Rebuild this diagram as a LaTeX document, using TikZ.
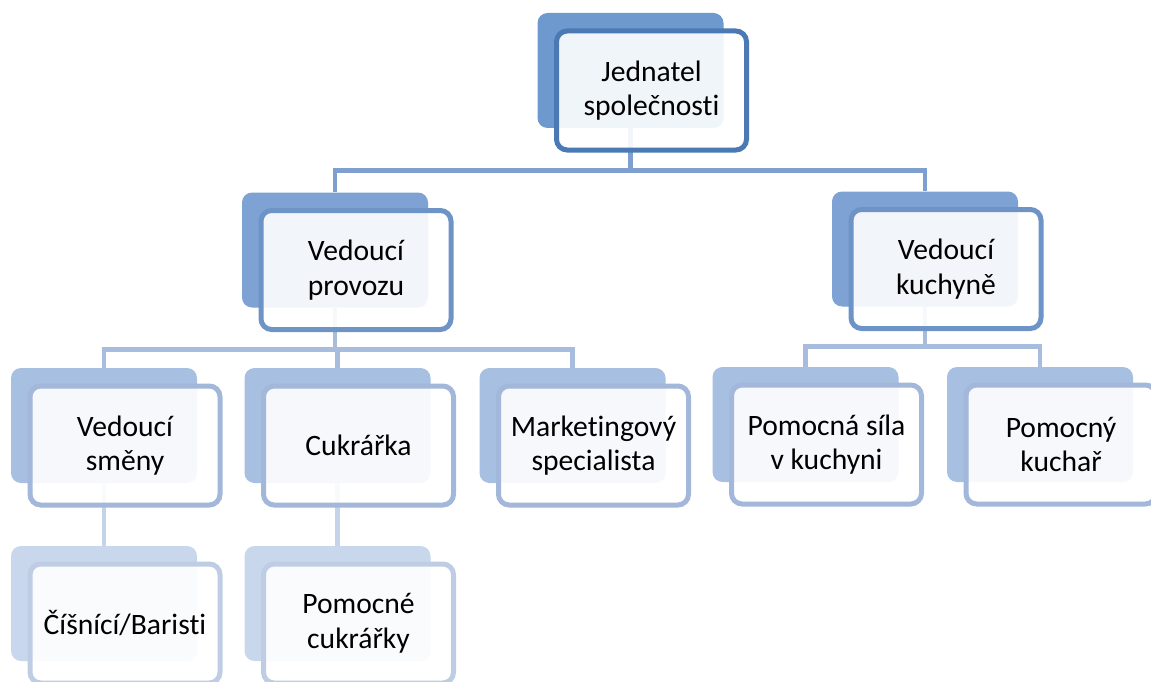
\documentclass[tikz,border=0pt]{standalone}
\usepackage{fontspec}
\setmainfont{Carlito}[Ligatures=NoCommon]
\usetikzlibrary{positioning}
\definecolor{BackA}{HTML}{6E99CF}
\definecolor{LineA}{HTML}{4A79B3}
\definecolor{BackB}{HTML}{7DA2D3}
\definecolor{LineB}{HTML}{6E93C7}
\definecolor{BackC}{HTML}{A7BFE0}
\definecolor{LineC}{HTML}{A2B7D9}
\definecolor{BackD}{HTML}{C9D7EC}
\definecolor{LineD}{HTML}{BFCDE4}
\definecolor{LinkA}{HTML}{7E9FD0}
\definecolor{LinkB}{HTML}{A8BDDE}
\definecolor{LinkC}{HTML}{C6D4E9}

\begin{document}
\begin{tikzpicture}[x=0.75pt,y=-0.75pt,
  back/.style={rounded corners=7.5pt,minimum width=139.5pt,minimum height=86.25pt,inner sep=0pt},
  front/.style={draw,line width=3.75pt,rounded corners=8pt,fill=white,fill opacity=0.9,text opacity=1,
    minimum width=142.5pt,minimum height=89.25pt,align=center,font=\fontsize{22.2}{26}\selectfont,inner sep=2pt},
  link/.style={line width=3.6pt}
]
\useasboundingbox (0,0) rectangle (1151,681);
% back plates
\node[back,fill=BackA] (ceoB) at (630.5,70.5) {};
\node[back,fill=BackB] (provB) at (335,250) {};
\node[back,fill=BackB] (kuchB) at (925,249) {};
\node[back,fill=BackC] (smenB) at (104,425.5) {};
\node[back,fill=BackC] (cukrB) at (337.5,425.5) {};
\node[back,fill=BackC] (markB) at (572.5,425.5) {};
\node[back,fill=BackC] (silaB) at (805.5,424.5) {};
\node[back,fill=BackC] (kucharB) at (1040,424.5) {};
\node[back,fill=BackD] (cisB) at (104,603.5) {};
\node[back,fill=BackD] (pcukB) at (337.5,603.5) {};
% connectors
\draw[link,LinkA] (ceoB.south) -- ++(0,42) -| (provB.north);
\draw[link,LinkA] (ceoB.south) -- ++(0,42) -| (kuchB.north);
\draw[link,LinkB] (provB.south) -- ++(0,42) -| (smenB.north);
\draw[link,LinkB] (provB.south) -- ++(0,42) -| (cukrB.north);
\draw[link,LinkB] (provB.south) -- ++(0,42) -| (markB.north);
\draw[link,LinkB] (kuchB.south) -- ++(0,40) -| (silaB.north);
\draw[link,LinkB] (kuchB.south) -- ++(0,40) -| (kucharB.north);
\draw[link,LinkC] (smenB) -- (cisB);
\draw[link,LinkC] (cukrB) -- (pcukB);
% front boxes
\node[front,draw=LineA] (ceo) at ([shift={(21,20)}]ceoB) {Jednatel\\společnosti};
\node[front,draw=LineB] (prov) at ([shift={(21,20)}]provB) {Vedoucí\\provozu};
\node[front,draw=LineB] (kuch) at ([shift={(21,20)}]kuchB) {Vedoucí\\kuchyně};
\node[front,draw=LineC] (smen) at ([shift={(21,20)}]smenB) {Vedoucí\\směny};
\node[front,draw=LineC] (cukr) at ([shift={(21,20)}]cukrB) {Cukrářka};
\node[front,draw=LineC] (mark) at ([shift={(21,20)}]markB) {Marketingový\\specialista};
\node[front,draw=LineC] (sila) at ([shift={(21,20)}]silaB) {Pomocná síla\\v kuchyni};
\node[front,draw=LineC] (kuchar) at ([shift={(21,20)}]kucharB) {Pomocný\\kuchař};
\node[front,draw=LineD] (cis) at ([shift={(21,20)}]cisB) {Číšnící/Baristi};
\node[front,draw=LineD] (pcuk) at ([shift={(21,20)}]pcukB) {Pomocné\\cukrářky};
\end{tikzpicture}
\end{document}
